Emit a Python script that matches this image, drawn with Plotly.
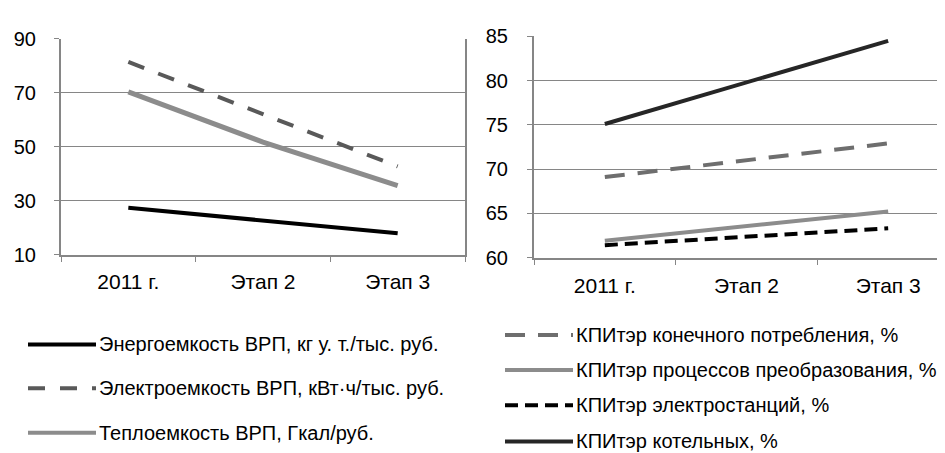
import plotly.graph_objects as go

categories = ["2011 г.", "Этап 2", "Этап 3"]

# Left chart
energy = [27.5, 22.7, 18.0]
electro = [81.5, 62.2, 42.8]
heat = [70.4, 51.8, 35.7]
left_names = ["Энергоемкость ВРП, кг у. т./тыс. руб.",
              "Электроемкость ВРП, кВт·ч/тыс. руб.",
              "Теплоемкость ВРП, Гкал/руб."]
left_ticks = [10, 30, 50, 70, 90]

# Right chart
konech = [69.1, 71.0, 72.9]
preobr = [61.9, 63.6, 65.2]
elst = [61.4, 62.3, 63.3]
kotel = [75.1, 79.8, 84.5]
right_names = ["КПИтэр конечного потребления, %",
               "КПИтэр процессов преобразования, %",
               "КПИтэр электростанций, %",
               "КПИтэр котельных, %"]
right_ticks = [60, 65, 70, 75, 80, 85]

W, H = 945, 453
FONT = "Liberation Sans, Arial, sans-serif"
AX = "#868686"

fig = go.Figure()

left_styles = [
    dict(color="#000000", width=4, dash="solid"),
    dict(color="#595959", width=4, dash="17px,15px"),
    dict(color="#8c8c8c", width=5, dash="solid"),
]
for ys, nm, st in zip([energy, electro, heat], left_names, left_styles):
    fig.add_trace(go.Scatter(x=categories, y=ys, mode="lines", name=nm,
                             line=st, showlegend=False, xaxis="x", yaxis="y"))

right_styles = [
    dict(color="#6e6e6e", width=4, dash="20px,13px"),
    dict(color="#8c8c8c", width=4, dash="solid"),
    dict(color="#000000", width=4, dash="13px,7px"),
    dict(color="#262626", width=4, dash="solid"),
]
for ys, nm, st in zip([konech, preobr, elst, kotel], right_names, right_styles):
    fig.add_trace(go.Scatter(x=categories, y=ys, mode="lines", name=nm,
                             line=st, showlegend=False, xaxis="x2", yaxis="y2"))

def px_x(p):
    return p / W

def px_y(p):
    return 1 - p / H

axis_common = dict(
    showline=True, linecolor=AX, linewidth=2,
    ticks="outside", tickcolor=AX, ticklen=5, tickwidth=1,
    zeroline=False,
)
xfont = dict(family=FONT, size=21, color="#000000")
yfont = dict(family=FONT, size=20, color="#000000")

fig.update_layout(
    width=W, height=H,
    margin=dict(l=0, r=0, t=0, b=0),
    paper_bgcolor="white", plot_bgcolor="white",
    showlegend=False,
    xaxis=dict(domain=[px_x(53), px_x(457)], type="category",
               range=[-0.5, 2.5], tickson="boundaries", showgrid=False,
               ticklabelstandoff=7, tickfont=xfont, anchor="y", **axis_common),
    yaxis=dict(domain=[px_y(248), px_y(21)], range=[10, 90],
               tickvals=left_ticks, showgrid=True, gridcolor=AX, gridwidth=1,
               mirror=True, ticklabelstandoff=14, tickfont=yfont, anchor="x",
               **axis_common),
    xaxis2=dict(domain=[px_x(526), 1.0], type="category",
                range=[-0.5, 2.5 - 6 / 141.7], tickson="boundaries", showgrid=False,
                ticklabelstandoff=8, tickfont=xfont, anchor="y2", **axis_common),
    yaxis2=dict(domain=[px_y(250.7), px_y(18.3)], range=[60, 85],
                tickvals=right_ticks, showgrid=True, gridcolor=AX, gridwidth=1,
                ticklabelstandoff=15, tickfont=yfont, anchor="x2", **axis_common),
)

# Custom legends
shapes = []
annotations = []
lfont = dict(family=FONT, size=20, color="#000000")
left_rows = [342, 388, 435]
for row, nm, st in zip(left_rows, left_names, left_styles):
    shapes.append(dict(type="line", xref="paper", yref="paper",
                       x0=px_x(20), x1=px_x(88), y0=px_y(row), y1=px_y(row),
                       line=dict(color=st["color"], width=4, dash=st["dash"])))
    annotations.append(dict(xref="paper", yref="paper", x=px_x(89), y=px_y(row),
                            xanchor="left", yanchor="middle", text=nm, showarrow=False,
                            font=lfont))

right_rows = [332, 369, 406, 444]
for row, nm, st in zip(right_rows, right_names, right_styles):
    shapes.append(dict(type="line", xref="paper", yref="paper",
                       x0=px_x(497), x1=px_x(565), y0=px_y(row), y1=px_y(row),
                       line=dict(color=st["color"], width=4, dash=st["dash"])))
    annotations.append(dict(xref="paper", yref="paper", x=px_x(566), y=px_y(row),
                            xanchor="left", yanchor="middle", text=nm, showarrow=False,
                            font=lfont))

fig.update_layout(shapes=shapes, annotations=annotations)

fig.write_html("out.html")
